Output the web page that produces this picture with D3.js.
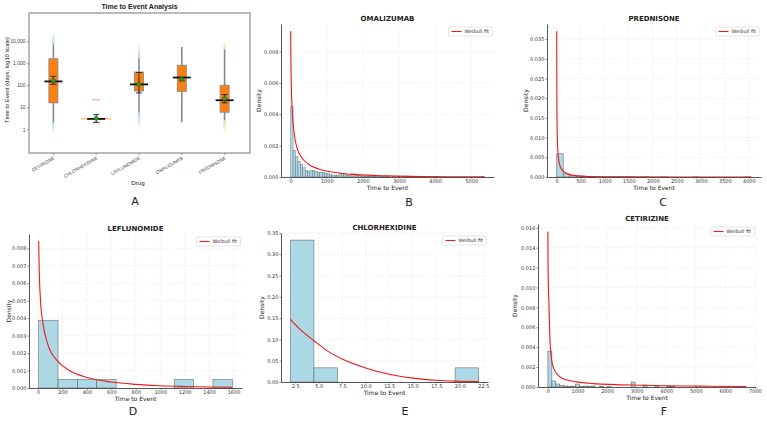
<!DOCTYPE html>
<html><head><meta charset="utf-8">
<script src="https://cdn.jsdelivr.net/npm/d3@7"></script>
<style>body{margin:0;background:#fff}svg{display:block}</style>
</head><body>
<svg id="c" width="767" height="422"></svg>
<script>
// ---------------- DATA ----------------
// Panel A: box plot summary (days)
const drugs   = ["CETIRIZINE","CHLORHEXIDINE","LEFLUNOMIDE","OMALIZUMAB","PREDNISONE"];
const boxQ1   = [16, 3, 55, 53, 6];
const boxMed  = [150, 3, 110, 225, 21];
const boxQ3   = [1600, 3, 400, 810, 100];
const whiskLo = [2.1, 3, 6, 2.1, 2.6];
const whiskHi = [7300, 3, 1600, 5500, 4200];
const meanVal = [163, 3.2, 111, 186, 25];
const ciLo    = [111, 2.1, 45, 160, 16];
const ciHi    = [257, 4.7, 380, 215, 38];
const tailLo  = [0.65, 3, 0.9, 2.1, 0.65];
const tailHi  = [30000, 3, 9000, 5500, 9000];
const outliers = [[], [2, 22], [], [], []];
const aTicks  = [1, 10, 100, 1000, 10000];

// Histograms (density per bin) + Weibull fit curve points
const omaStart = 2, omaWidth = 67;
const omaDens = [0.0045,0.0017,0.0013,0.0010,0.0008,0.0006,0.0004,0.00035,0.0004,0.0004,
  0.00035,0.0003,0.0003,0.00028,0.00025,0.00022,0.00015,0.00012,0.00012,0.0001,
  0.0002,0.0002,0.0002,0.0001,0.00008,0.0002,0.0002,0.0001,0.00008,0.00006,
  0.00006,0.00005,0.00005,0.00004,0.00004,0.00006,0.00003,0.00003,0.00004,0.00005,
  0.00003,0,0.00003,0,0.00003,0,0,0.00003,0,0,
  0,0.00003,0.00004,0,0,0,0,0,0,0.00004,
  0.00004,0,0,0,0,0,0,0,0,0,
  0,0,0,0,0,0,0,0,0,0.00002];
const omaCurveX = [2,8,20,46,92,184,322,506,875,1335,1800,2700,3600,4500,5362];
const omaCurveY = [0.0093,0.0075,0.0058,0.0042,0.0029,0.0018,0.0012,0.0008,0.00045,0.00026,0.00015,0.00007,0.00003,0.000015,0.00001];
const omaXTicks = [0,1000,2000,3000,4000,5000];
const omaYTicks = [0,0.002,0.004,0.006,0.008];

const preStart = 1, preWidth = 135;
const preDens = [0.0059,0.0008,0.0003,0.00012,0.00008,0.00005,0.00004,0.00002,0.00002,0.00002,
  0.00001,0.00001,0,0.00001,0,0,0.00001,0,0,0,
  0,0.00001,0,0,0,0,0,0,0,0.00001];
const preCurveX = [1,3,6,12,25,45,70,100,135,200,300,450,700,1000,1500,2500,4051];
const preCurveY = [0.037,0.0231,0.0158,0.0105,0.0064,0.0041,0.0028,0.002,0.0015,0.00093,0.00054,0.00028,0.00012,0.00006,0.00002,0.000003,0];
const preXTicks = [0,500,1000,1500,2000,2500,3000,3500,4000];
const preYTicks = [0,0.005,0.010,0.015,0.020,0.025,0.030,0.035];

const lefStart = 5, lefWidth = 158.5;
const lefDens = [0.00388,0.000485,0.000485,0.000485,0,0,0,0.000485,0,0.000485];
const lefCurveX = [5,10,20,40,80,160,250,400,600,800,1000,1200,1400,1590];
const lefCurveY = [0.0084,0.0066,0.005,0.0037,0.0025,0.00154,0.00103,0.0006,0.00034,0.00021,0.00013,0.000087,0.000059,0.000042];
const lefXTicks = [0,200,400,600,800,1000,1200,1400,1600];
const lefYTicks = [0,0.001,0.002,0.003,0.004,0.005,0.006,0.007,0.008];

const chlStart = 2, chlWidth = 2.5;
const chlDens = [0.3333,0.0333,0,0,0,0,0,0.0333];
const chlCurveX = [2,3,4.5,6,7.5,10,12.5,15,17.5,20,22];
const chlCurveY = [0.147,0.124,0.097,0.072,0.054,0.033,0.018,0.009,0.004,0.0018,0.0008];
const chlXTicks = [2.5,5,7.5,10,12.5,15,17.5,20,22.5];
const chlYTicks = [0,0.05,0.10,0.15,0.20,0.25,0.30,0.35];

const cetStart = 1, cetWidth = 134;
const cetDens = [0.0036,0.0006,0.0003,0.00015,0.0001,0.00005,0.00008,0.0003,0.00005,0.0001,
  0.00005,0.0001,0,0.00005,0,0.00003,0,0,0,0,
  0,0.0005,0,0,0.0002,0,0,0.0001,0,0,
  0.00007,0.00007,0,0,0,0,0,0,0,0,
  0,0,0,0,0,0,0,0,0,0.00002];
const cetCurveX = [1,3,12,35,80,170,340,680,1530,3220,5480,6701];
const cetCurveY = [0.0156,0.0135,0.011,0.0085,0.0042,0.0021,0.0012,0.00067,0.00034,0.00017,0.00008,0.00005];
const cetXTicks = [0,1000,2000,3000,4000,5000,6000,7000];
const cetYTicks = [0,0.002,0.004,0.006,0.008,0.010,0.012,0.014,0.016];

// ---------------- DRAW ----------------
const svg = d3.select('#c');
const defs = svg.append('defs');
const SANS = "'Liberation Sans', Arial, sans-serif";
const DJ = "'DejaVu Sans', sans-serif";

// ----- Panel A -----
(function(){
  const A = {l:29, r:250, t:13, b:153};
  const x = d3.scalePoint().domain(drugs).range([32, 246]).padding(0.5);
  const y = d3.scaleLog().domain([0.085, 190000]).range([A.b, A.t]);
  const g = svg.append('g');
  const tailCols = ['#8fd6d6','#ffa060','#a6c6e2','#c0c0c0','#c9e06a'];

  drugs.forEach((d,i)=>{
    const c = tailCols[i];
    [[whiskHi[i], tailHi[i], 'h'], [whiskLo[i], tailLo[i], 'l']].forEach(([a,b,k])=>{
      if (Math.abs(Math.log(a/b)) < 0.01) return;
      const id = 'tg'+i+k;
      const lg = defs.append('linearGradient').attr('id',id)
        .attr('gradientUnits','userSpaceOnUse').attr('x1',0).attr('x2',0)
        .attr('y1',y(a)).attr('y2',y(b));
      lg.append('stop').attr('offset',0).attr('stop-color',c).attr('stop-opacity',0.8);
      lg.append('stop').attr('offset',1).attr('stop-color',c).attr('stop-opacity',0);
      g.append('rect').attr('x',x(d)-1.2).attr('width',2.4)
        .attr('y',Math.min(y(a),y(b))).attr('height',Math.abs(y(a)-y(b)))
        .attr('fill','url(#'+id+')');
    });
  });
  g.selectAll('line.wh').data(drugs).join('line')
    .attr('x1',d=>x(d)).attr('x2',d=>x(d))
    .attr('y1',(d,i)=>y(whiskLo[i])).attr('y2',(d,i)=>y(whiskHi[i]))
    .attr('stroke','#8a8a8a').attr('stroke-width',1.6);
  drugs.forEach((d,i)=>{
    if (boxQ1[i] === boxQ3[i]) {
      g.append('line').attr('x1',x(d)-15).attr('x2',x(d)+15)
        .attr('y1',y(boxMed[i])).attr('y2',y(boxMed[i]))
        .attr('stroke','#ffb27a').attr('stroke-width',1.4);
    }
    outliers[i].forEach(v=>{
      g.append('line').attr('x1',x(d)-4).attr('x2',x(d)+4)
        .attr('y1',y(v)).attr('y2',y(v))
        .attr('stroke','#ff9a5a').attr('stroke-width',1.2).attr('opacity',0.8);
    });
  });
  const bw = 9;
  g.selectAll('rect.box').data(drugs).join('rect')
    .attr('x',d=>x(d)-bw/2).attr('width',bw)
    .attr('y',(d,i)=>y(boxQ3[i])).attr('height',(d,i)=>Math.max(0.01, y(boxQ1[i])-y(boxQ3[i])))
    .attr('fill','#ff7f0e').attr('stroke','#8a8a8a').attr('stroke-width',0.9);
  g.selectAll('line.med').data(drugs).join('line')
    .attr('x1',d=>x(d)-9).attr('x2',d=>x(d)+9)
    .attr('y1',(d,i)=>y(boxMed[i])).attr('y2',(d,i)=>y(boxMed[i]))
    .attr('stroke','#111').attr('stroke-width',1.8);
  drugs.forEach((d,i)=>{
    const cx = x(d);
    g.append('line').attr('x1',cx).attr('x2',cx).attr('y1',y(ciLo[i])).attr('y2',y(ciHi[i]))
      .attr('stroke','#222').attr('stroke-width',0.9);
    [ciLo[i], ciHi[i]].forEach(v=>{
      g.append('line').attr('x1',cx-3).attr('x2',cx+3).attr('y1',y(v)).attr('y2',y(v))
        .attr('stroke','#222').attr('stroke-width',0.9);
    });
  });
  g.selectAll('circle.mean').data(drugs).join('circle')
    .attr('cx',d=>x(d)).attr('cy',(d,i)=>y(meanVal[i])).attr('r',2.1)
    .attr('fill','#2ca02c').attr('stroke','#1b5e1b').attr('stroke-width',0.5);

  svg.append('rect').attr('x',A.l).attr('y',A.t).attr('width',A.r-A.l).attr('height',A.b-A.t)
    .attr('fill','none').attr('stroke','#a5a5a5').attr('stroke-width',1.5);
  const ya = svg.append('g').attr('transform',`translate(${A.l},0)`)
    .call(d3.axisLeft(y).tickValues(aTicks).tickFormat(d3.format(',')).tickSize(2).tickPadding(1.5));
  ya.select('.domain').remove();
  ya.selectAll('text').attr('font-family',SANS).attr('font-size',5).attr('fill','#444');
  ya.selectAll('line').attr('stroke','#666').attr('stroke-width',0.6);
  const xa = svg.append('g');
  xa.selectAll('line').data(drugs).join('line')
    .attr('x1',d=>x(d)).attr('x2',d=>x(d)).attr('y1',A.b).attr('y2',A.b+2)
    .attr('stroke','#666').attr('stroke-width',0.6);
  xa.selectAll('text').data(drugs).join('text')
    .attr('transform',d=>`translate(${x(d)+1},${A.b+5}) rotate(-30)`)
    .attr('text-anchor','end').attr('dominant-baseline','middle')
    .attr('font-family',SANS).attr('font-size',4.6).attr('fill','#444').text(d=>d);
  svg.append('text').attr('x',139.5).attr('y',7.5).attr('text-anchor','middle')
    .attr('dominant-baseline','middle').attr('font-family',SANS).attr('font-weight','bold')
    .attr('font-size',7).attr('fill','#222').text('Time to Event Analysis');
  svg.append('text').attr('transform','translate(7,80) rotate(-90)').attr('text-anchor','middle')
    .attr('dominant-baseline','middle').attr('font-family',SANS).attr('font-size',5.8)
    .attr('fill','#222').text('Time to Event (days, log10 scale)');
  svg.append('text').attr('x',138).attr('y',183.5).attr('text-anchor','middle')
    .attr('dominant-baseline','middle').attr('font-family',SANS).attr('font-size',6.2)
    .attr('fill','#222').text('Drug');
})();

// ----- Histogram panels -----
function histPanel(o){
  const n = o.dens.length;
  const lo = o.start, hi = o.start + n*o.width, span = hi - lo;
  const x = d3.scaleLinear().domain([lo-0.05*span, hi+0.05*span]).range([o.l, o.r]);
  const ymax = Math.max(d3.max(o.dens), d3.max(o.cy))*1.05;
  const y = d3.scaleLinear().domain([0, ymax]).range([o.b, o.t]);
  const g = svg.append('g');
  g.selectAll('line.gx').data(o.xt).join('line')
    .attr('x1',d=>x(d)).attr('x2',d=>x(d)).attr('y1',o.t).attr('y2',o.b)
    .attr('stroke','#e2e2e2').attr('stroke-width',0.5).attr('stroke-dasharray','2,1.5');
  g.selectAll('line.gy').data(o.yt).join('line')
    .attr('x1',o.l).attr('x2',o.r).attr('y1',d=>y(d)).attr('y2',d=>y(d))
    .attr('stroke','#e2e2e2').attr('stroke-width',0.5).attr('stroke-dasharray','2,1.5');
  g.selectAll('rect.bar').data(o.dens).join('rect')
    .attr('x',(d,i)=>x(lo+i*o.width)).attr('width',x(lo+o.width)-x(lo))
    .attr('y',d=>y(d)).attr('height',d=>o.b-y(d))
    .attr('fill','#add8e6').attr('stroke','#4a4a4a').attr('stroke-opacity',0.75)
    .attr('stroke-width',o.bsw || 0.6);
  const line = d3.line().x((d,i)=>x(o.cx[i])).y(d=>y(d)).curve(d3.curveMonotoneX);
  g.append('path').datum(o.cy).attr('d',line).attr('fill','none')
    .attr('stroke','#f01818').attr('stroke-width',1.1);
  const xa = svg.append('g').attr('transform',`translate(0,${o.b})`)
    .call(d3.axisBottom(x).tickValues(o.xt).tickFormat(o.xf).tickSize(1.6).tickSizeOuter(0).tickPadding(1.2));
  const ya = svg.append('g').attr('transform',`translate(${o.l},0)`)
    .call(d3.axisLeft(y).tickValues(o.yt).tickFormat(o.yf).tickSize(1.6).tickSizeOuter(0).tickPadding(1));
  [xa, ya].forEach(a=>{
    a.selectAll('text').attr('font-family',DJ).attr('font-size',5).attr('fill','#333');
    a.selectAll('line').attr('stroke','#444').attr('stroke-width',0.6);
    a.select('.domain').attr('stroke','#444').attr('stroke-width',0.9);
  });
  svg.append('text').attr('x',(o.l+o.r)/2).attr('y',o.t-5).attr('text-anchor','middle')
    .attr('dominant-baseline','middle').attr('font-family',DJ).attr('font-weight','bold')
    .attr('font-size',7).attr('fill','#222').text(o.title);
  svg.append('text').attr('x',(o.l+o.r)/2).attr('y',o.b+11.5).attr('text-anchor','middle')
    .attr('dominant-baseline','middle').attr('font-family',DJ).attr('font-size',6)
    .attr('fill','#222').text('Time to Event');
  svg.append('text').attr('transform',`translate(${o.yl},${(o.t+o.b)/2}) rotate(-90)`)
    .attr('text-anchor','middle').attr('dominant-baseline','middle')
    .attr('font-family',DJ).attr('font-size',6).attr('fill','#222').text('Density');
  const lw = 44, lh = 9, lx = o.r - lw - 1.5, ly = o.t + 3;
  svg.append('rect').attr('x',lx).attr('y',ly).attr('width',lw).attr('height',lh).attr('rx',1.5)
    .attr('fill','#fff').attr('fill-opacity',0.85).attr('stroke','#d5d5d5').attr('stroke-width',0.6);
  svg.append('line').attr('x1',lx+3).attr('x2',lx+13).attr('y1',ly+lh/2).attr('y2',ly+lh/2)
    .attr('stroke','#f01818').attr('stroke-width',1.1);
  svg.append('text').attr('x',lx+16).attr('y',ly+lh/2+0.3).attr('dominant-baseline','middle')
    .attr('font-family',DJ).attr('font-size',4.9).attr('fill','#333').text('Weibull fit');
  svg.append('text').attr('x',o.lx).attr('y',o.ly).attr('text-anchor','middle')
    .attr('dominant-baseline','middle').attr('font-family',DJ).attr('font-size',11)
    .attr('fill','#222').text(o.letter);
}

const f3 = d3.format('.3f'), f2 = d3.format('.2f'), f1 = d3.format('.1f'), f0 = d3.format('d');
histPanel({title:'OMALIZUMAB', start:omaStart, width:omaWidth, dens:omaDens, cx:omaCurveX, cy:omaCurveY,
  xt:omaXTicks, yt:omaYTicks, xf:f0, yf:f3, l:281, r:494, t:24, b:177, yl:259, letter:'B', lx:409, ly:203, bsw:0.45});
histPanel({title:'PREDNISONE', start:preStart, width:preWidth, dens:preDens, cx:preCurveX, cy:preCurveY,
  xt:preXTicks, yt:preYTicks, xf:f0, yf:f3, l:547, r:761, t:24, b:177, yl:526, letter:'C', lx:663, ly:203});
histPanel({title:'LEFLUNOMIDE', start:lefStart, width:lefWidth, dens:lefDens, cx:lefCurveX, cy:lefCurveY,
  xt:lefXTicks, yt:lefYTicks, xf:f0, yf:f3, l:29, r:242, t:234, b:388, yl:9, letter:'D', lx:133, ly:412});
histPanel({title:'CHLORHEXIDINE', start:chlStart, width:chlWidth, dens:chlDens, cx:chlCurveX, cy:chlCurveY,
  xt:chlXTicks, yt:chlYTicks, xf:f1, yf:f2, l:281, r:488, t:233, b:382, yl:262, letter:'E', lx:405, ly:412});
histPanel({title:'CETIRIZINE', start:cetStart, width:cetWidth, dens:cetDens, cx:cetCurveX, cy:cetCurveY,
  xt:cetXTicks, yt:cetYTicks, xf:f0, yf:f3, l:538, r:756, t:224, b:387, yl:515, letter:'F', lx:664, ly:412});

svg.append('text').attr('x',135).attr('y',202).attr('text-anchor','middle')
  .attr('dominant-baseline','middle').attr('font-family',DJ).attr('font-size',11)
  .attr('fill','#222').text('A');
</script>
</body></html>
